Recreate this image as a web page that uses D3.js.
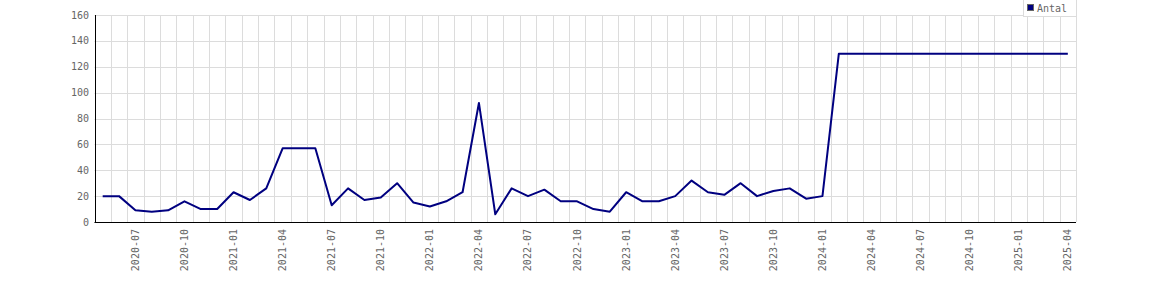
<!DOCTYPE html>
<html>
<head>
<meta charset="utf-8">
<script src="https://cdn.jsdelivr.net/npm/d3@7"></script>
<style>
  body { margin: 0; background: #fff; }
  svg { display: block; }
  text { font-family: "DejaVu Sans Mono", monospace; font-size: 10px; fill: #666; }
</style>
</head>
<body>
<svg id="chart" width="1170" height="300"></svg>
<script>
// months, 2020-05 .. 2025-04
const months = [];
for (let y = 2020; y <= 2025; y++) {
    for (let m = 1; m <= 12; m++) {
        const key = y + "-" + String(m).padStart(2, "0");
        if (key >= "2020-05" && key <= "2025-04") months.push(key);
    }
}

const antal = [
    20, 20, 9, 8, 9, 16, 10, 10, 23, 17, 26, 57,
    57, 57, 13, 26, 17, 19, 30, 15, 12, 16, 23, 92,
    6, 26, 20, 25, 16, 16, 10, 8, 23, 16, 16, 20,
    32, 23, 21, 30, 20, 24, 26, 18, 20, 130, 130, 130,
    130, 130, 130, 130, 130, 130, 130, 130, 130, 130, 130, 130
];

const tickLabels = months.filter(d => ["01", "04", "07", "10"].includes(d.slice(5)));
const yTicks = [0, 20, 40, 60, 80, 100, 120, 140, 160];
const seriesName = "Antal";

const margin = { top: 15, right: 94, bottom: 78, left: 94.5 };
const width = 1170, height = 300;
const svg = d3.select("#chart");

const x = d3.scaleBand()
    .domain(months)
    .range([margin.left, width - margin.right]);

const y = d3.scaleLinear()
    .domain([0, 160])
    .range([height - margin.bottom, margin.top]);

const cx = d => x(d) + x.bandwidth() / 2;

// grid
const grid = svg.append("g").attr("stroke", "#dcdcdc").attr("stroke-width", 1);
grid.selectAll(".hg")
    .data(yTicks)
    .enter()
    .append("line")
    .attr("x1", margin.left).attr("x2", width - margin.right)
    .attr("y1", d => Math.round(y(d)) + 0.5).attr("y2", d => Math.round(y(d)) + 0.5);

const bounds = months.map(d => x(d)).concat([x(months[months.length - 1]) + x.bandwidth()]);
grid.selectAll(".vg")
    .data(bounds)
    .enter()
    .append("line")
    .attr("x1", d => Math.round(d) + 0.5).attr("x2", d => Math.round(d) + 0.5)
    .attr("y1", y(160)).attr("y2", y(0));

// line
const line = d3.line()
    .x((d, i) => cx(months[i]))
    .y(d => y(d));

svg.append("path")
    .datum(antal)
    .attr("fill", "none")
    .attr("stroke", "#000080")
    .attr("stroke-width", 2)
    .attr("stroke-linejoin", "round")
    .attr("d", line);

// axes
svg.append("line")
    .attr("x1", Math.round(margin.left) + 0.5).attr("x2", Math.round(margin.left) + 0.5)
    .attr("y1", y(160)).attr("y2", y(0) + 0.5)
    .attr("stroke", "#000");
svg.append("line")
    .attr("x1", margin.left).attr("x2", width - margin.right)
    .attr("y1", Math.round(y(0)) + 0.5).attr("y2", Math.round(y(0)) + 0.5)
    .attr("stroke", "#000");

svg.selectAll(".ylab")
    .data(yTicks)
    .enter()
    .append("text")
    .attr("x", 89)
    .attr("y", d => y(d))
    .attr("dy", "0.35em")
    .attr("text-anchor", "end")
    .text(d => d);

svg.selectAll(".xlab")
    .data(tickLabels)
    .enter()
    .append("text")
    .attr("transform", d => `translate(${cx(d)},229) rotate(-90)`)
    .attr("dy", "0.35em")
    .attr("text-anchor", "end")
    .text(d => d);

// legend
const lg = svg.append("g");
lg.append("rect")
    .attr("x", 1023.5).attr("y", -1)
    .attr("width", 53).attr("height", 17.5)
    .attr("fill", "#fff").attr("stroke", "#dcdcdc");
lg.append("rect")
    .attr("x", 1027.5).attr("y", 4.5)
    .attr("width", 6).attr("height", 6)
    .attr("fill", "#000080").attr("stroke", "#666");
lg.append("text")
    .attr("x", 1037).attr("y", 8)
    .attr("dy", "0.35em")
    .text(seriesName);
</script>
</body>
</html>
